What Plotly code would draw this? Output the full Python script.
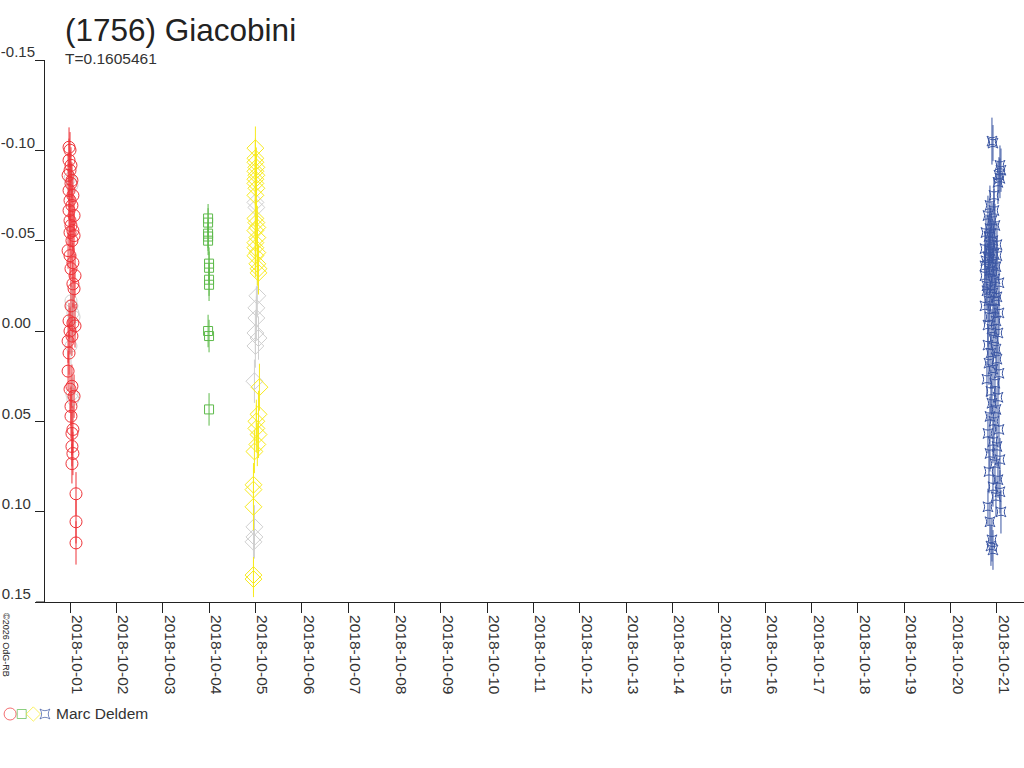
import pandas as pd
import plotly.graph_objects as go

# ---------------- data ----------------
title_text = "(1756) Giacobini"
subtitle_text = "T=0.1605461"
observer = "Marc Deldem"
copyright_text = "©2026 OdG-RB"

x_tick_dates = pd.date_range("2018-10-01", "2018-10-21", freq="D")
y_tick_vals = [-0.15, -0.10, -0.05, 0.00, 0.05, 0.10, 0.15]
y_tick_text = ["-0.15", "-0.10", "-0.05", "0.00 ", "0.05 ", "0.10 ", "0.15 "]

# Session 1 (red circles), 2018-10-01 : hours from midnight, magnitude, error
red_day = "2018-10-01"
red_hours = [-0.5, 0.0, -0.5, 0.5, 0.0, -1.0, 1.0, 0.5, -0.5, 1.5, 0.0, 1.0, -0.5, 2.1, 0.0, 0.5,
             1.5, 0.0, 2.1, 1.0, -1.0, 0.0, 1.5, 0.5, 2.6, 1.5, 2.1, 0.5, -0.5, 1.5, 2.6, 0.0,
             1.0, -1.0, -0.5, -1.0, 1.0, 0.0, 2.1, 0.5, 0.5, 1.5, 1.0, 1.0, 1.5, 1.0, 3.1, 3.1, 3.1]
red_mag = [-0.1017, -0.1001, -0.0945, -0.0917, -0.0889, -0.0862, -0.0834, -0.0817, -0.0778, -0.0750,
           -0.0723, -0.0695, -0.0667, -0.0639, -0.0611, -0.0584, -0.0556, -0.0545, -0.0528, -0.0500,
           -0.0445, -0.0417, -0.0378, -0.0345, -0.0306, -0.0261, -0.0234, -0.0139, -0.0056, -0.0044,
           -0.0028, 0.0000, 0.0028, 0.0056, 0.0122, 0.0222, 0.0306, 0.0322, 0.0361, 0.0417,
           0.0472, 0.0545, 0.0567, 0.0639, 0.0678, 0.0734, 0.0901, 0.1056, 0.1173]
red_err = [0.011, 0.010, 0.012, 0.010, 0.011, 0.012, 0.010, 0.011, 0.012, 0.010,
           0.011, 0.010, 0.012, 0.011, 0.010, 0.012, 0.011, 0.010, 0.012, 0.011,
           0.010, 0.012, 0.011, 0.010, 0.012, 0.013, 0.011, 0.012, 0.010, 0.011,
           0.012, 0.013, 0.011, 0.012, 0.012, 0.011, 0.012, 0.013, 0.012, 0.011,
           0.012, 0.013, 0.012, 0.011, 0.012, 0.011, 0.012, 0.012, 0.012]

# Session 1 comparison (grey circles)
grey1_hours = [0.0, 1.0, 0.5, 1.0, 1.5, 2.1, 0.5, 1.0, 1.5]
grey1_mag = [-0.0845, -0.0806, -0.0167, -0.0139, -0.0100, -0.0078, 0.0083, 0.0350, 0.0378]
grey1_err = [0.010, 0.010, 0.011, 0.011, 0.011, 0.011, 0.012, 0.012, 0.012]

# Session 2 (green squares), 2018-10-04
green_day = "2018-10-04"
green_hours = [-0.5, -0.5, -0.5, -0.5, -0.5, 0.0, 0.0, 0.0, 0.0, -0.5, 0.0, 0.0]
green_mag = [-0.0623, -0.0600, -0.0539, -0.0523, -0.0500, -0.0373, -0.0350, -0.0284, -0.0256,
             0.0000, 0.0028, 0.0434]
green_err = [0.008, 0.008, 0.008, 0.008, 0.008, 0.009, 0.009, 0.009, 0.009, 0.009, 0.009, 0.009]

# Session 3 (yellow diamonds), 2018-10-05
yellow_day = "2018-10-05"
yellow_hours = [0.0, 0.0, 0.0, 0.5, 0.0, 0.5, 0.0, 0.0, 0.5, 0.0, 0.0, 0.5, 1.0, 0.0, 1.0, 0.0,
                0.0, 1.0, 0.0, 1.0, 1.6, 1.6, 2.1, 1.6, 0.5, 0.5, 1.6, 1.0, -0.5, -1.0, -1.0,
                -1.0, -1.0, -1.0]
yellow_mag = [-0.1012, -0.0956, -0.0934, -0.0906, -0.0884, -0.0862, -0.0840, -0.0817, -0.0790,
              -0.0751, -0.0623, -0.0600, -0.0573, -0.0556, -0.0517, -0.0489, -0.0461, -0.0434,
              -0.0417, -0.0372, -0.0345, -0.0322, 0.0311, 0.0461, 0.0500, 0.0539, 0.0573,
              0.0628, 0.0667, 0.0851, 0.0878, 0.0973, 0.1351, 0.1373]
yellow_err = [0.012, 0.011, 0.012, 0.011, 0.012, 0.011, 0.012, 0.012, 0.011, 0.012,
              0.011, 0.012, 0.012, 0.011, 0.012, 0.012, 0.011, 0.012, 0.012, 0.012,
              0.013, 0.012, 0.013, 0.013, 0.012, 0.013, 0.013, 0.012, 0.012, 0.012,
              0.012, 0.013, 0.010, 0.010]

# Session 3 comparison (grey diamonds)
grey3_hours = [0.0, 0.5, 1.0, 0.5, 0.5, 0.0, 1.6, 0.0, -0.5, -0.5, -0.5, -1.0]
grey3_mag = [-0.0712, -0.0684, -0.0195, -0.0128, -0.0072, 0.0011, 0.0039, 0.0083, 0.0278,
             0.1084, 0.1140, 0.1167]
grey3_err = [0.011, 0.011, 0.012, 0.012, 0.012, 0.012, 0.012, 0.012, 0.012, 0.012, 0.012, 0.012]

# Session 4 (blue star squares), 2018-10-21
blue_day = "2018-10-21"
blue_hours = [-2.59, -2.07, 1.55, 2.07, 1.04, 1.55, 0.52, -1.55, -3.63, -1.55, -4.66, -2.59, -1.04,
              -3.63, -5.70, -4.14, -2.07, 0.0, -6.22, -3.63, -1.55, -4.66, -5.70, -2.59, -0.52,
              -3.63, -6.22, -1.04, 1.04, -5.18, -3.11, -2.07, 0.0, -4.14, -6.22, -1.55, 1.04,
              -3.63, -0.52, -4.66, -2.59, 0.52, -1.55, -4.66, -0.52, -3.11, 0.0, -4.14, -2.07,
              1.04, -5.18, -1.04, -3.11, 0.52, -2.59, -0.52, -3.63, -1.55, 1.04, -4.66, -2.07,
              0.0, -3.63, 1.55, -1.04, -4.14, 0.52, -2.07, 1.55, -0.52, -4.66, 2.07, -3.63,
              -2.59, -3.11, -2.07, -3.11, -4.14, -2.07, -5.18, -1.04, -3.11, 0.0, -6.22]
blue_mag = [-0.1051, -0.1040, -0.0917, -0.0890, -0.0862, -0.0845, -0.0823, -0.0751, -0.0695,
            -0.0667, -0.0639, -0.0612, -0.0584, -0.0567, -0.0545, -0.0523, -0.0500, -0.0478,
            -0.0456, -0.0445, -0.0428, -0.0411, -0.0389, -0.0373, -0.0356, -0.0334, -0.0306,
            -0.0289, -0.0267, -0.0250, -0.0234, -0.0211, -0.0189, -0.0167, -0.0139, -0.0122,
            -0.0100, -0.0078, -0.0056, -0.0033, -0.0011, 0.0011, 0.0044, 0.0078, 0.0100,
            0.0122, 0.0156, 0.0178, 0.0211, 0.0234, 0.0267, 0.0289, 0.0334, 0.0367, 0.0400,
            0.0434, 0.0473, 0.0500, 0.0545, 0.0567, 0.0612, 0.0639, 0.0678, 0.0712, 0.0734,
            0.0778, 0.0823, 0.0862, 0.0890, 0.0917, 0.0973, 0.1001, 0.1056, 0.1156, 0.1190,
            0.1212, -0.0473, -0.0400, -0.0322, -0.0223, -0.0167, -0.0539, -0.0417, -0.0361]
blue_err = [0.013, 0.010, 0.011, 0.012, 0.010, 0.011, 0.012, 0.010, 0.011, 0.012,
            0.011, 0.010, 0.012, 0.011, 0.010, 0.012, 0.011, 0.012, 0.010, 0.011,
            0.012, 0.011, 0.010, 0.012, 0.011, 0.012, 0.010, 0.011, 0.012, 0.011,
            0.010, 0.012, 0.011, 0.012, 0.010, 0.011, 0.012, 0.011, 0.010, 0.012,
            0.011, 0.012, 0.010, 0.011, 0.012, 0.011, 0.010, 0.012, 0.011, 0.012,
            0.010, 0.011, 0.012, 0.011, 0.010, 0.012, 0.011, 0.012, 0.010, 0.011,
            0.012, 0.011, 0.010, 0.012, 0.011, 0.012, 0.010, 0.011, 0.012, 0.011,
            0.010, 0.012, 0.011, 0.012, 0.011, 0.011, 0.011, 0.012, 0.010, 0.011,
            0.012, 0.011, 0.010, 0.012]

# ---------------- styles ----------------
RED = "#ee3338"
GREEN = "#5dba4a"
YELLOW = "#f7ea1c"
BLUE = "#3b56a3"
GREY = "#cfcfcf"
FONT = "Liberation Sans, Arial, sans-serif"

W, H = 1024, 768
TOP, BOT = 60, 30
PH = H - TOP - BOT


def py(p):
    """paper y fraction for a pixel row"""
    return (H - BOT - p) / PH


def px(p):
    """paper x fraction for a pixel column"""
    return p / W


def times(day, hours):
    return pd.Timestamp(day) + pd.to_timedelta(hours, unit="h")


fig = go.Figure()


def add_series(day, hours, mag, err, color, symbol, size):
    fig.add_trace(go.Scatter(
        x=times(day, hours), y=mag, mode="markers",
        marker=dict(symbol=symbol, size=size, color=color, line=dict(color=color, width=1)),
        error_y=dict(type="data", array=err, visible=True, color=color, thickness=1, width=0),
        showlegend=False, hoverinfo="skip",
    ))


add_series(red_day, grey1_hours, grey1_mag, grey1_err, GREY, "circle-open", 12)
add_series(red_day, red_hours, red_mag, red_err, RED, "circle-open", 12)
add_series(green_day, green_hours, green_mag, green_err, GREEN, "square-open", 9)
add_series(yellow_day, grey3_hours, grey3_mag, grey3_err, GREY, "diamond-open", 13)
add_series(yellow_day, yellow_hours, yellow_mag, yellow_err, YELLOW, "diamond-open", 13)
add_series(blue_day, blue_hours, blue_mag, blue_err, BLUE, "star-square-open", 9)

# legend symbols on their own small axes
legend_colors = [RED, GREEN, YELLOW, BLUE]
legend_symbols = ["circle-open", "square-open", "diamond-open", "star-square-open"]
legend_sizes = [12, 9, 11, 9]
fig.add_trace(go.Scatter(
    x=list(range(len(legend_colors))), y=[0] * len(legend_colors), mode="markers",
    marker=dict(symbol=legend_symbols, size=legend_sizes, color=legend_colors,
                line=dict(color=legend_colors, width=1)),
    xaxis="x2", yaxis="y2", showlegend=False, hoverinfo="skip",
))

x_start = pd.Timestamp("2018-10-01") - pd.Timedelta(hours=12.95)
x_end = pd.Timestamp("2018-10-21") + pd.Timedelta(hours=14.0)

fig.update_layout(
    width=W, height=H,
    margin=dict(l=0, r=0, t=TOP, b=BOT, autoexpand=False),
    paper_bgcolor="white", plot_bgcolor="white",
    font=dict(family=FONT, color="#333333"),
    xaxis=dict(
        domain=[px(45), 1], range=[x_start, x_end], automargin=False,
        tickvals=x_tick_dates, ticktext=[d.strftime("%Y-%m-%d") for d in x_tick_dates],
        tickangle=90, ticks="outside", ticklen=10, tickcolor="#222", tickwidth=1,
        tickfont=dict(size=15.5, color="#333"), ticklabelshift=7, ticklabelstandoff=-1,
        showline=True, linecolor="#222", linewidth=1, showgrid=False, zeroline=False,
        anchor="y",
    ),
    yaxis=dict(
        domain=[py(602), 1], range=[0.15, -0.15], automargin=False,
        tickvals=y_tick_vals, ticktext=y_tick_text,
        ticks="outside", ticklen=9, tickcolor="#222", tickwidth=1,
        tickfont=dict(size=15, color="#333"), ticklabelshift=8, ticklabelstandoff=-3,
        showline=True, linecolor="#222", linewidth=1, showgrid=False, zeroline=False,
        anchor="x",
    ),
    xaxis2=dict(domain=[0, px(62)], range=[-0.87, 4.47], visible=False,
                fixedrange=True, automargin=False),
    yaxis2=dict(domain=[py(738), py(690)], range=[-1, 1], visible=False, fixedrange=True,
                anchor="x2", automargin=False),
    annotations=[
        dict(text=title_text, xref="paper", yref="paper", x=px(63), y=py(30),
             xanchor="left", yanchor="middle", showarrow=False,
             font=dict(size=31.5, color="#222", family=FONT)),
        dict(text=subtitle_text, xref="paper", yref="paper", x=px(63), y=py(58),
             xanchor="left", yanchor="middle", showarrow=False,
             font=dict(size=15.5, color="#333", family=FONT)),
        dict(text=observer, xref="paper", yref="paper", x=px(54), y=py(713),
             xanchor="left", yanchor="middle", showarrow=False,
             font=dict(size=15.5, color="#333", family=FONT)),
        dict(text=copyright_text, xref="paper", yref="paper", x=px(6), y=py(645),
             xanchor="center", yanchor="middle", showarrow=False, textangle=90,
             font=dict(size=9, color="#222", family=FONT)),
    ],
    shapes=[
        dict(type="line", xref="paper", yref="paper", x0=px(36), x1=px(45),
             y0=py(602), y1=py(602), line=dict(color="#222", width=1)),
    ],
)

fig.write_html(
    "out.html",
    config={"displayModeBar": False, "staticPlot": True},
    post_script="document.body.style.margin='0px';document.body.style.overflow='hidden';",
)
